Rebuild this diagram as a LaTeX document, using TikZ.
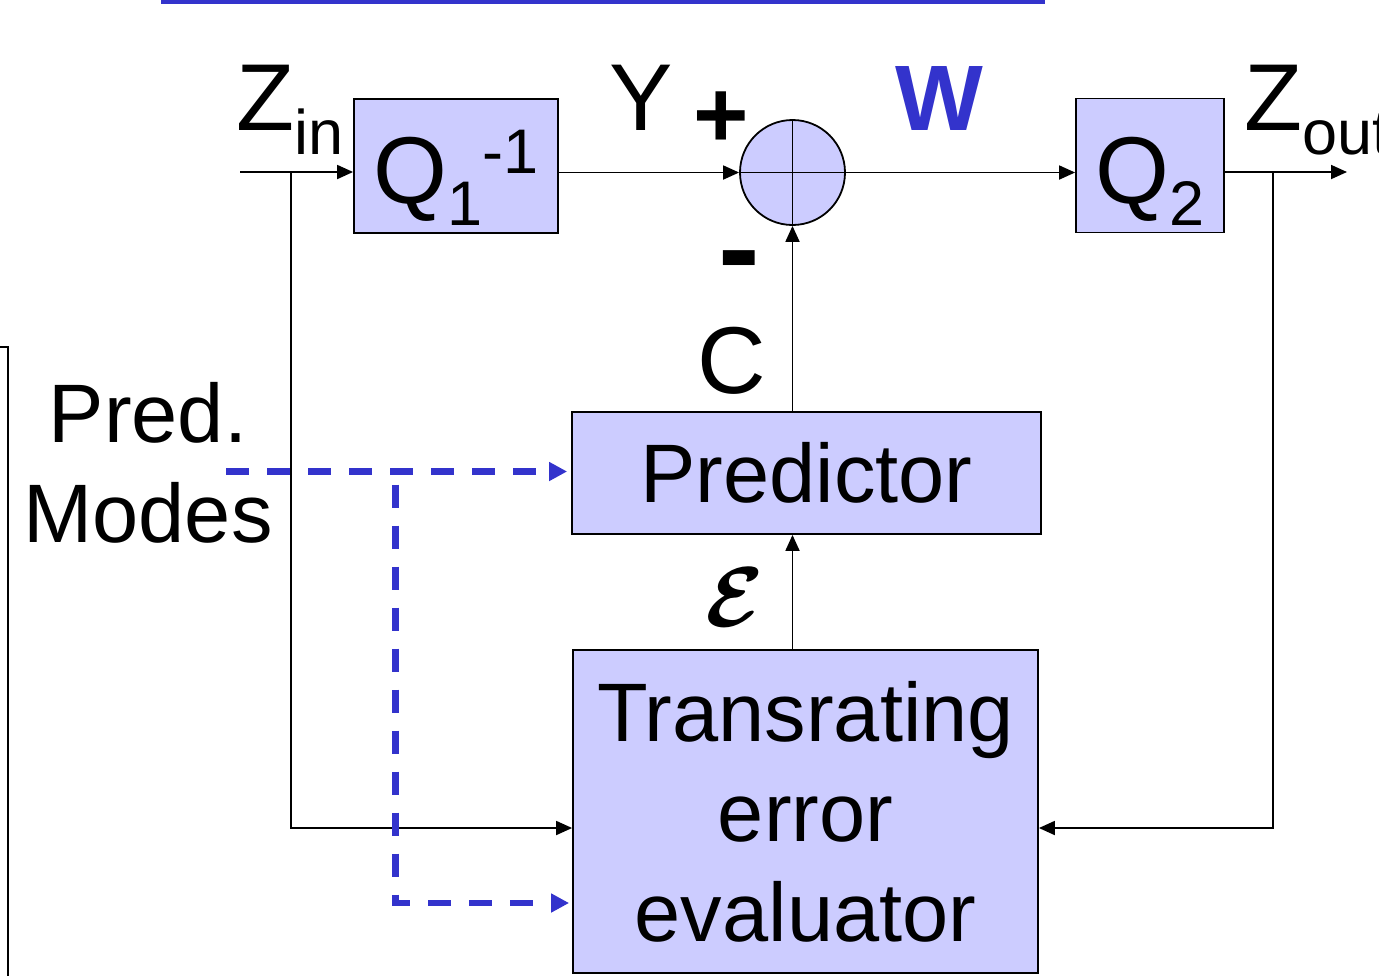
\documentclass[tikz,border=0pt]{standalone}
\usepackage{fontspec}
\setmainfont{Liberation Sans}
\usepackage{graphicx}
\usetikzlibrary{arrows.meta}
\definecolor{boxfill}{RGB}{204,204,255}
\definecolor{dblue}{RGB}{51,51,204}
\newcommand{\fsz}[1]{\fontsize{#1}{#1}\selectfont}
\newcommand{\mysub}[2]{\raisebox{-#1pt}{\fsz{63}#2}}
\newcommand{\mysupr}[2]{\raisebox{#1pt}{\fsz{63}#2}}
\begin{document}
\begin{tikzpicture}[x=1pt,y=-1pt,
  blk/.style={draw=black, line width=1.8pt, fill=boxfill, inner sep=0pt},
  conn/.style={line width=1.8pt, -{Triangle[length=16pt,width=14pt]}},
  dconn/.style={draw=dblue, line width=6.5pt, dash pattern=on 23pt off 18pt, -{Triangle[length=18pt,width=18pt]}},
  lbl/.style={inner sep=0pt, font=\fsz{95}},
]
\useasboundingbox (0,0) rectangle (1379,975);

% decorations
\draw[dblue, line width=4pt] (161,2) -- (1045,2);
\draw[line width=1.8pt] (0,347) -- (8,347) -- (8,976);

% blocks
\node[blk, minimum width=204pt, minimum height=134pt, text height=74pt, text depth=0pt, font=\fsz{95}] (q1) at (456,166) {Q\mysub{22}{1}\mysupr{30}{-1}};
\node[blk, circle, minimum size=105pt] (sum) at (792.5,172.5) {};
\draw[line width=1.8pt] (sum.north) -- (sum.south) (sum.west) -- (sum.east);
\node[blk, minimum width=148pt, minimum height=134pt, text height=76pt, text depth=0pt, font=\fsz{95}] (q2) at (1150,165.5) {Q\mysub{22}{2}};
\node[blk, minimum width=469pt, minimum height=122pt, font=\fsz{83}] (pred) at (806.5,473) {Predictor};
\node[blk, minimum width=465pt, minimum height=323pt, align=center, font=\fontsize{83}{100}\selectfont] (eval) at (805.5,811.5) {Transrating\\error\\evaluator};

% labels
\node[lbl, anchor=base west] (zin) at (236,130) {Z\mysub{24}{in}};
\node[lbl, anchor=base west] (ylbl) at (609,130) {Y};
\node[lbl, anchor=base, font=\fsz{95}\bfseries] (plus) at (721.5,147) {+};
\node[lbl, anchor=base, font=\fsz{125}\bfseries] (minus) at (739.5,290) {-};
\node[lbl, anchor=base west, text=dblue, font=\fsz{93}\bfseries] (w) at (895,130) {W};
\node[lbl, anchor=base west] (clbl) at (697,393) {C};
\node[lbl, anchor=base west] (zout) at (1244,130) {Z\mysub{24}{out}};
\node[inner sep=0pt] (eps) at (735,597.5) {\scalebox{8.5}{\boldmath$\mathcal{E}$}};
\node[inner sep=0pt, align=center, anchor=north, font=\fontsize{83}{100}\selectfont] (modes) at (148,382) {Pred.\\Modes};

% coordinates
\coordinate (zinstart) at (240,172);
\coordinate (zoutend) at (1347,172);
\coordinate (bin) at (291,172);
\coordinate (binlow) at (291,828);
\coordinate (bout) at (1273,172);
\coordinate (boutlow) at (1273,828);
\coordinate (dstart) at (226,471.5);
\coordinate (dsplit) at (395.5,471.5);
\coordinate (dcorner) at (395.5,903);

% connectors
\draw[conn] (zinstart) -- (zinstart -| q1.west);
\draw[conn] (q1.east |- sum) -- (sum.west);
\draw[conn] (sum.east) -- (sum.east -| q2.west);
\draw[conn] (q2.east |- zoutend) -- (zoutend);
\draw[conn] (bin) -- (binlow) -- (binlow -| eval.west);
\draw[conn] (bout) -- (boutlow) -- (boutlow -| eval.east);
\draw[conn] (pred.north -| sum) -- (sum.south);
\draw[conn] (eval.north -| sum) -- (pred.south -| sum);
\draw[dconn, shorten >=4pt] (dstart) -- (dstart -| pred.west);
\draw[dconn, dash phase=28pt, shorten >=3pt] (dsplit) -- (dcorner) -- (dcorner -| eval.west);
\end{tikzpicture}
\end{document}
